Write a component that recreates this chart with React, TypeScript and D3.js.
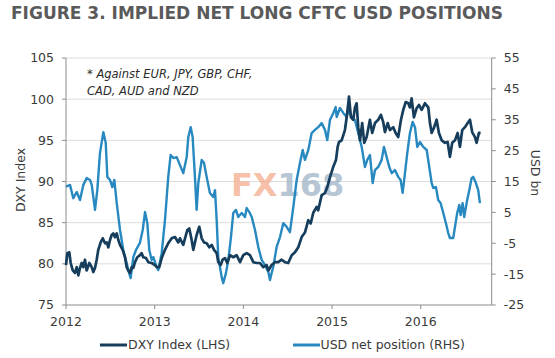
import React from "react";
import * as d3 from "d3";

const title = "FIGURE 3. IMPLIED NET LONG CFTC USD POSITIONS";
const yearTicks = [2012, 2013, 2014, 2015, 2016];
const leftTicks = [75, 80, 85, 90, 95, 100, 105];
const rightTicks = [-25, -15, -5, 5, 15, 25, 35, 45, 55];
const noteLines = ["* Against EUR, JPY, GBP, CHF,", "CAD, AUD and NZD"];
const seriesNames = ["DXY Index (LHS)", "USD net position (RHS)"];

// USD net position (RHS), decimal year offsets from 2012 and values in USD bn
const usdT = [
  0.0, 0.045, 0.082, 0.121, 0.158, 0.195, 0.233, 0.271, 0.29, 0.327, 0.353, 0.383, 0.421, 0.448, 0.466, 0.496,
  0.522, 0.545, 0.572, 0.609, 0.646, 0.684, 0.702, 0.729, 0.759, 0.789, 0.833, 0.865, 0.891, 0.917, 0.939, 0.966,
  0.984, 1.023, 1.041, 1.079, 1.116, 1.153, 1.18, 1.21, 1.248, 1.285, 1.322, 1.361, 1.379, 1.406, 1.428, 1.454,
  1.473, 1.492, 1.53, 1.556, 1.586, 1.623, 1.661, 1.68, 1.699, 1.717, 1.736, 1.755, 1.773, 1.804, 1.83, 1.86,
  1.886, 1.917, 1.942, 1.981, 2.018, 2.037, 2.067, 2.094, 2.131, 2.168, 2.206, 2.244, 2.281, 2.3, 2.319, 2.337,
  2.375, 2.413, 2.45, 2.488, 2.525, 2.563, 2.601, 2.638, 2.669, 2.694, 2.732, 2.77, 2.807, 2.844, 2.883, 2.92,
  2.946, 2.976, 3.014, 3.041, 3.052, 3.089, 3.126, 3.165, 3.183, 3.221, 3.258, 3.295, 3.334, 3.371, 3.397, 3.427,
  3.458, 3.484, 3.521, 3.559, 3.585, 3.616, 3.645, 3.672, 3.709, 3.746, 3.773, 3.796, 3.822, 3.848, 3.878, 3.909,
  3.935, 3.961, 3.991, 4.028, 4.067, 4.096, 4.123, 4.141, 4.171, 4.197, 4.224, 4.254, 4.284, 4.31, 4.329, 4.366,
  4.386, 4.411, 4.434, 4.45, 4.472, 4.49, 4.517, 4.547, 4.574, 4.592, 4.622, 4.648, 4.667,
];
const usdV = [
  13.3, 13.9, 9.6, 11.6, 9.0, 13.9, 16.1, 15.5, 13.9, 5.8, 12.2, 24.2, 31.0, 27.5, 16.5, 15.5,
  13.2, 15.5, 8.0, -0.7, -7.2, -11.4, -13.7, -16.3, -9.5, -7.2, -4.9, -0.7, 5.1, 1.5, -7.2, -10.4,
  -9.5, -12.7, -13.7, -8.2, 2.5, 16.5, 23.6, 22.6, 22.9, 20.3, 17.7, 22.9, 29.4, 32.6, 29.4, 16.5,
  5.8, 14.5, 22.0, 21.0, 16.5, 11.3, 10.0, 12.2, 2.5, -9.5, -12.7, -15.9, -17.9, -14.6, -10.4, -3.0,
  4.8, 5.8, 3.5, 4.8, 3.5, 6.4, 5.1, 3.5, -0.7, -6.2, -10.4, -12.1, -14.3, -16.9, -14.6, -12.7,
  -6.2, -3.0, 1.5, 0.3, -1.4, 6.7, 15.5, 21.0, 25.2, 22.0, 25.2, 30.7, 31.7, 32.6, 33.9, 31.7,
  28.4, 34.9, 37.2, 39.1, 35.9, 38.8, 37.2, 35.9, 38.2, 35.9, 34.9, 30.7, 26.2, 19.7, 22.0, 23.6,
  14.5, 18.7, 19.7, 22.0, 26.2, 22.9, 19.7, 17.7, 18.7, 16.5, 15.5, 11.3, 17.7, 24.2, 30.7, 34.3,
  32.6, 26.2, 27.8, 26.2, 25.2, 19.7, 14.5, 12.9, 13.2, 9.0, 8.0, 4.8, 1.5, -1.7, -3.3, -3.3,
  0.3, 4.8, 7.4, 4.1, 8.0, 3.5, 8.0, 12.2, 16.1, 16.5, 14.5, 12.2, 8.0,
];

// DXY index (LHS)
const dxyT = [
  0.0, 0.015, 0.037, 0.053, 0.076, 0.101, 0.121, 0.139, 0.158, 0.177, 0.195, 0.214, 0.233, 0.263, 0.29, 0.308,
  0.327, 0.346, 0.364, 0.391, 0.414, 0.44, 0.459, 0.477, 0.496, 0.515, 0.533, 0.552, 0.572, 0.59, 0.609, 0.639,
  0.665, 0.684, 0.702, 0.722, 0.741, 0.759, 0.778, 0.804, 0.834, 0.853, 0.871, 0.902, 0.928, 0.966, 1.003, 1.023,
  1.052, 1.079, 1.116, 1.153, 1.192, 1.229, 1.266, 1.285, 1.322, 1.342, 1.368, 1.39, 1.417, 1.435, 1.454, 1.473,
  1.503, 1.53, 1.556, 1.586, 1.616, 1.643, 1.669, 1.699, 1.717, 1.744, 1.766, 1.793, 1.818, 1.849, 1.886, 1.924,
  1.962, 1.999, 2.037, 2.074, 2.112, 2.15, 2.187, 2.224, 2.263, 2.281, 2.319, 2.356, 2.393, 2.432, 2.469, 2.506,
  2.545, 2.582, 2.619, 2.657, 2.694, 2.732, 2.759, 2.788, 2.826, 2.844, 2.883, 2.92, 2.946, 2.976, 3.014, 3.044,
  3.063, 3.078, 3.108, 3.145, 3.165, 3.191, 3.213, 3.239, 3.258, 3.277, 3.295, 3.315, 3.34, 3.363, 3.39, 3.427,
  3.453, 3.484, 3.521, 3.551, 3.577, 3.596, 3.627, 3.653, 3.69, 3.717, 3.746, 3.777, 3.803, 3.83, 3.859, 3.878,
  3.897, 3.923, 3.954, 3.98, 4.01, 4.047, 4.085, 4.104, 4.123, 4.152, 4.179, 4.205, 4.236, 4.273, 4.303, 4.329,
  4.355, 4.386, 4.416, 4.442, 4.468, 4.498, 4.529, 4.555, 4.58, 4.611, 4.63, 4.656, 4.675,
];
const dxyV = [
  79.85, 81.3, 81.4, 80.1, 79.2, 78.9, 79.6, 78.6, 79.5, 80.1, 79.6, 80.5, 79.2, 80.1, 79.6, 79.0,
  79.5, 80.5, 81.7, 82.6, 83.1, 82.5, 82.6, 82.0, 82.9, 83.5, 83.7, 83.25, 83.7, 82.9, 82.3, 81.7,
  80.8, 79.6, 79.2, 78.9, 79.6, 79.5, 80.2, 80.8, 81.05, 81.3, 80.8, 80.7, 80.2, 80.1, 79.85, 79.6,
  79.6, 80.7, 81.7, 82.5, 83.1, 83.25, 82.6, 83.1, 82.3, 83.1, 84.1, 84.3, 82.9, 81.7, 82.6, 83.5,
  84.5, 83.1, 82.6, 82.5, 82.0, 82.3, 81.7, 81.3, 80.2, 79.85, 80.5, 80.7, 80.1, 81.05, 80.8, 81.05,
  80.2, 81.05, 81.3, 81.05, 80.2, 80.1, 80.1, 79.6, 79.85, 79.2, 79.85, 80.2, 80.2, 80.5, 80.2, 80.1,
  81.05, 81.4, 82.0, 83.25, 83.8, 85.3, 84.9, 86.2, 86.9, 86.5, 88.35, 88.6, 89.3, 90.5, 91.8, 92.6,
  94.2, 94.8, 95.0, 96.25, 97.8, 100.3, 97.8, 97.5, 99.0, 99.5, 96.6, 95.0, 97.1, 94.7, 95.4, 97.5,
  95.9, 97.1, 97.5, 98.1, 97.2, 96.0, 97.1, 96.25, 96.6, 95.9, 95.4, 97.5, 98.7, 99.65, 99.5, 99.0,
  100.1, 97.8, 98.9, 99.3, 98.7, 99.5, 99.0, 97.1, 95.9, 96.6, 97.5, 95.9, 95.0, 94.7, 94.8, 93.0,
  94.7, 95.0, 95.9, 94.2, 96.25, 96.6, 97.1, 97.5, 96.0, 95.4, 94.7, 95.9, 95.9,
];

const DARK = "#163e5c";
const LIGHT = "#2789c0";
const FONT = "'DejaVu Sans', Verdana, sans-serif";

export default function App() {
  const W = 555;
  const H = 358;
  const left = 66;
  const right = 491.7;
  const top = 58;
  const bottom = 305;

  const x = d3.scaleLinear().domain([2012, 2016.8]).range([left, right]);
  const yL = d3.scaleLinear().domain([75, 105]).range([bottom, top]);
  const yR = d3.scaleLinear().domain([-25, 55]).range([bottom, top]);

  const usd = usdT.map((t, i) => [2012 + t, usdV[i]] as [number, number]);
  const dxy = dxyT.map((t, i) => [2012 + t, dxyV[i]] as [number, number]);

  const usdLine = d3
    .line<[number, number]>()
    .x((d) => x(d[0]))
    .y((d) => yR(d[1]))
    .curve(d3.curveLinear)(usd);
  const dxyLine = d3
    .line<[number, number]>()
    .x((d) => x(d[0]))
    .y((d) => yL(d[1]))
    .curve(d3.curveLinear)(dxy);

  const axisColor = "#8c8c8c";
  const textColor = "#3a3a3a";
  const FS = 12.5;

  return (
    <svg width={W} height={H} style={{ position: "absolute", left: 0, top: 0, background: "#fff" }}>
      <text
        x={11}
        y={18.5}
        fontFamily={FONT}
        fontWeight="bold"
        fontSize={17}
        fill="#5a5a5a"
        textLength={492}
        lengthAdjust="spacingAndGlyphs"
      >
        {title}
      </text>

      {/* gridlines */}
      {leftTicks.slice(1).map((v) => (
        <line key={"g" + v} x1={left} x2={right} y1={yL(v)} y2={yL(v)} stroke="#dcdcdc" strokeWidth={1} />
      ))}

      {/* watermark */}
      <text x={231} y={196} fontFamily={FONT} fontWeight="bold" fontSize={32} opacity={0.75}>
        <tspan fill="#f3ab8d">FX</tspan>
        <tspan fill="#9fb3c7">168</tspan>
      </text>

      {/* axes */}
      <line x1={left} x2={left} y1={top} y2={bottom} stroke={axisColor} strokeWidth={1} />
      <line x1={right} x2={right} y1={top} y2={bottom} stroke={axisColor} strokeWidth={1} />
      <line x1={left} x2={right} y1={bottom} y2={bottom} stroke={axisColor} strokeWidth={1} />

      {leftTicks.map((v) => (
        <g key={"l" + v}>
          <line x1={left - 4} x2={left} y1={yL(v)} y2={yL(v)} stroke={axisColor} />
          <text
            x={left - 12}
            y={yL(v)}
            dy="0.35em"
            textAnchor="end"
            fontFamily={FONT}
            fontSize={FS}
            fill={textColor}
          >
            {v}
          </text>
        </g>
      ))}
      {rightTicks.map((v) => (
        <g key={"r" + v}>
          <line x1={right} x2={right + 4} y1={yR(v)} y2={yR(v)} stroke={axisColor} />
          <text x={right + 12} y={yR(v)} dy="0.35em" fontFamily={FONT} fontSize={FS} fill={textColor}>
            {v}
          </text>
        </g>
      ))}
      {yearTicks.map((v) => (
        <g key={"x" + v}>
          <line x1={x(v)} x2={x(v)} y1={bottom} y2={bottom + 4} stroke={axisColor} />
          <text
            x={x(v)}
            y={bottom + 21}
            textAnchor="middle"
            fontFamily={FONT}
            fontSize={FS}
            fill={textColor}
          >
            {v}
          </text>
        </g>
      ))}

      {/* axis titles */}
      <text
        transform={`translate(25,180) rotate(-90)`}
        textAnchor="middle"
        fontFamily={FONT}
        fontSize={FS}
        fill={textColor}
      >
        DXY Index
      </text>
      <text
        transform={`translate(531,173) rotate(90)`}
        textAnchor="middle"
        fontFamily={FONT}
        fontSize={FS}
        fill={textColor}
      >
        USD bn
      </text>

      {/* note */}
      {noteLines.map((s, i) => (
        <text
          key={s}
          x={87}
          y={78 + i * 16.5}
          fontFamily={FONT}
          fontStyle="italic"
          fontSize={11.5}
          fill="#2a2a2a"
        >
          {s}
        </text>
      ))}

      {/* series */}
      <path d={usdLine ?? ""} fill="none" stroke={LIGHT} strokeWidth={2.4} strokeLinejoin="round" />
      <path d={dxyLine ?? ""} fill="none" stroke={DARK} strokeWidth={2.7} strokeLinejoin="round" />

      {/* legend */}
      <line x1={100} x2={127} y1={345} y2={345} stroke={DARK} strokeWidth={3} />
      <text x={128} y={345} dy="0.35em" fontFamily={FONT} fontSize={FS} fill={textColor}>
        {seriesNames[0]}
      </text>
      <line x1={293} x2={320} y1={345} y2={345} stroke={LIGHT} strokeWidth={3} />
      <text x={320.5} y={345} dy="0.35em" fontFamily={FONT} fontSize={FS} fill={textColor}>
        {seriesNames[1]}
      </text>
    </svg>
  );
}
